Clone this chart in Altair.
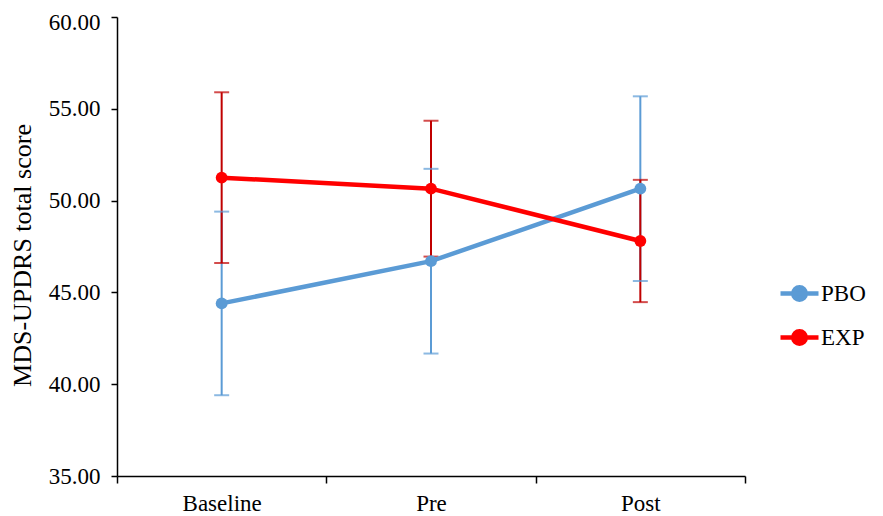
import altair as alt
import pandas as pd

phases = ["Baseline", "Pre", "Post"]
groups = ["PBO", "EXP"]
pbo_mean = [44.4, 46.7, 50.65]
pbo_err = [5.0, 5.03, 5.03]
exp_mean = [51.25, 50.65, 47.8]
exp_err = [4.65, 3.7, 3.33]

rows = []
for g, means, errs in (("PBO", pbo_mean, pbo_err), ("EXP", exp_mean, exp_err)):
    for p, m, e in zip(phases, means, errs):
        rows.append({"phase": p, "group": g, "mean": m, "lo": m - e, "hi": m + e})
df = pd.DataFrame(rows)

FONT = "Liberation Serif"
FS = 23
W, H = 628, 459

x = alt.X("phase:N", sort=phases, title=None,
          scale=alt.Scale(type="band", paddingInner=0, paddingOuter=0),
          axis=alt.Axis(tickBand="extent", labelAngle=0, labelFont=FONT, labelFontSize=FS,
                        labelColor="black", tickColor="black", domainColor="black",
                        tickSize=7, tickWidth=1.5, domainWidth=1.5, labelPadding=9, grid=False))

yscale = alt.Scale(domain=[35, 60], nice=False, zero=False)

err_color = alt.Color("group:N", scale=alt.Scale(domain=groups, range=["#5B9BD5", "#C00000"]), legend=None)

rules = alt.Chart(df).mark_rule(strokeWidth=2).encode(
    x=x,
    y=alt.Y("lo:Q", scale=yscale),
    y2="hi:Q",
    color=err_color,
)
caps_hi = alt.Chart(df).mark_tick(thickness=2, size=15).encode(
    x=x, y=alt.Y("hi:Q", scale=yscale), color=err_color)
caps_lo = alt.Chart(df).mark_tick(thickness=2, size=15).encode(
    x=x, y=alt.Y("lo:Q", scale=yscale), color=err_color)

legend_path = "M-1,0L1,0M0.33,0A0.33,0.33 0 1,1 -0.33,0A0.33,0.33 0 1,1 0.33,0Z"

lines = alt.Chart(df).mark_line(strokeWidth=4.5, point=alt.OverlayMarkDef(size=140, filled=True, opacity=1)).encode(
    x=x,
    y=alt.Y("mean:Q", scale=yscale, title="MDS-UPDRS total score",
            axis=alt.Axis(values=[35, 40, 45, 50, 55, 60], format=".2f", grid=False,
                          labelFont=FONT, labelFontSize=FS, labelColor="black",
                          labelOffset={"condition": {"test": "datum.value == 60", "value": 5}, "value": 0},
                          titleFont=FONT, titleFontSize=26, titleFontWeight="normal", titleColor="black",
                          titleY=238,
                          tickColor="black", domainColor="black", tickSize=6, tickWidth=1.5,
                          domainWidth=1.5, labelPadding=11, titlePadding=13)),
    color=alt.Color("group:N", scale=alt.Scale(domain=groups, range=["#5B9BD5", "#FF0000"]),
                    legend=alt.Legend(title=None, orient="none", legendX=661, legendY=255,
                                      symbolType=legend_path, symbolSize=1444, symbolStrokeWidth=4.5,
                                      labelFont=FONT, labelFontSize=FS, labelColor="black",
                                      rowPadding=7, labelOffset=0)),
)

chart = alt.layer(rules, caps_hi, caps_lo, lines).resolve_scale(color="independent").properties(
    width=W, height=H,
    autosize=alt.AutoSizeParams(type="none"),
    padding={"left": 109, "top": 9, "right": 130, "bottom": 40},
).configure_view(stroke=None)

chart.save("out.html", embed_options={"renderer": "svg", "actions": False})
